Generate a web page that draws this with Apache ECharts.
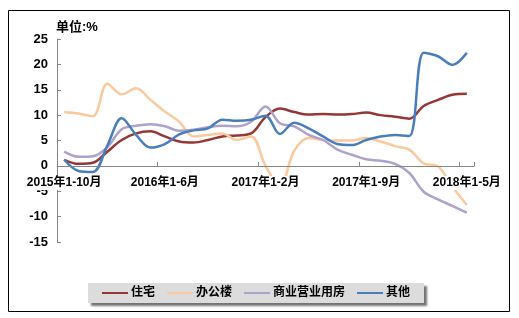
<!DOCTYPE html>
<html><head><meta charset="utf-8">
<script src="https://cdn.jsdelivr.net/npm/echarts@6/dist/echarts.min.js"></script>
<style>html,body{margin:0;padding:0;background:#fff}#c{width:519px;height:318px}</style>
</head><body><div id="c"></div>
<script>
const categories = [
 '2015年1-10月','2015年1-11月','2015年1-12月',
 '2016年1-2月','2016年1-3月','2016年1-4月','2016年1-5月','2016年1-6月','2016年1-7月','2016年1-8月','2016年1-9月','2016年1-10月','2016年1-11月','2016年1-12月',
 '2017年1-2月','2017年1-3月','2017年1-4月','2017年1-5月','2017年1-6月','2017年1-7月','2017年1-8月','2017年1-9月','2017年1-10月','2017年1-11月','2017年1-12月',
 '2018年1-2月','2018年1-3月','2018年1-4月','2018年1-5月'
];
const residential = [1.2, 0.4, 0.6, 2.8, 5.1, 6.4, 6.8, 5.8, 4.8, 4.6, 5.1, 5.8, 6.0, 6.4, 9.6, 11.3, 10.6, 10.1, 10.2, 10.1, 10.2, 10.5, 10.0, 9.7, 9.3, 11.8, 13.0, 14.0, 14.2];
const office = [10.6, 10.3, 9.8, 16.2, 14.1, 15.3, 13.0, 10.7, 8.7, 5.8, 6.1, 6.4, 5.1, 5.8, 0.0, -4.0, 3.0, 5.5, 5.1, 5.0, 5.0, 5.5, 4.8, 3.9, 3.2, 0.5, -0.1, -4.1, -7.7];
const commercial = [2.8, 1.8, 1.9, 3.7, 7.2, 7.9, 8.2, 7.8, 6.9, 7.1, 7.6, 7.9, 7.8, 8.7, 11.7, 8.4, 7.8, 6.1, 5.1, 3.2, 2.2, 1.3, 1.0, 0.4, -1.4, -5.1, -6.6, -7.9, -9.2];
const others = [1.2, -1.0, -1.2, 4.0, 9.4, 6.1, 3.6, 4.3, 6.2, 7.0, 7.4, 9.1, 8.9, 9.1, 9.9, 6.3, 8.5, 7.4, 5.8, 4.3, 4.1, 5.1, 5.8, 6.1, 5.9, 22.3, 21.6, 19.9, 22.3];
const seriesNames = ['住宅','办公楼','商业营业用房','其他'];
const seriesColors = ['#953735','#FAC99E','#ADA2CC','#4A7EBB'];
const yTicks = {min: -15, max: 25, interval: 5};
const unitLabel = '单位:%';

const FONT = '"Liberation Sans","Noto Sans CJK SC",sans-serif';
const GRID = {left: 57, right: 45, top: 39, bottom: 76};
const plotH = 318 - GRID.top - GRID.bottom;
const zeroOffset = -plotH * (0 - yTicks.min) / (yTicks.max - yTicks.min);
const chart = echarts.init(document.getElementById('c'), null, {renderer: 'canvas'});
const data = [residential, office, commercial, others];
chart.setOption({
  animation: false,
  backgroundColor: '#fff',
  grid: Object.assign({containLabel: false}, GRID),
  graphic: [
    {type: 'rect', shape: {x: 8.5, y: 10.5, width: 501, height: 301}, style: {fill: 'none', stroke: '#000', lineWidth: 1}, z: 0},
    {type: 'text', left: 56, top: 21, style: {text: unitLabel, font: 'bold 13px ' + FONT, fill: '#000'}}
  ],
  legend: {
    data: seriesNames,
    left: 88, top: 283,
    padding: [4, 14, 4, 14],
    itemGap: 12, itemWidth: 26, itemHeight: 2,
    icon: 'rect',
    backgroundColor: '#dcdcdc',
    shadowColor: 'rgba(0,0,0,0.55)', shadowBlur: 2, shadowOffsetX: 3, shadowOffsetY: 3,
    textStyle: {fontFamily: FONT, fontWeight: 'bold', fontSize: 12, color: '#000', padding: [0,0,0,-2]}
  },
  xAxis: {
    type: 'category', data: categories, boundaryGap: true,
    offset: zeroOffset, z: 10,
    axisLine: {onZero: false, lineStyle: {color: '#868686', width: 1}},
    axisTick: {show: true, inside: true, length: 4, lineStyle: {color: '#868686'}},
    axisLabel: {interval: 6, color: '#000', fontFamily: FONT, fontWeight: 'bold', fontSize: 12, margin: 10,
                backgroundColor: '#fff', padding: [1, 0, 1, 0]},
    splitLine: {show: false}
  },
  yAxis: {
    type: 'value', min: yTicks.min, max: yTicks.max, interval: yTicks.interval,
    axisLine: {show: true, lineStyle: {color: '#868686', width: 1}},
    axisTick: {show: true, inside: true, length: 4, lineStyle: {color: '#868686'}},
    axisLabel: {color: '#000', fontFamily: FONT, fontWeight: 'bold', fontSize: 13, margin: 9},
    splitLine: {show: false}
  },
  series: seriesNames.map((n, i) => ({
    name: n, type: 'line', data: data[i], smooth: 0.35, symbol: 'none',
    lineStyle: {color: seriesColors[i], width: 2.5},
    itemStyle: {color: seriesColors[i]},
    z: 2
  }))
});
</script></body></html>
